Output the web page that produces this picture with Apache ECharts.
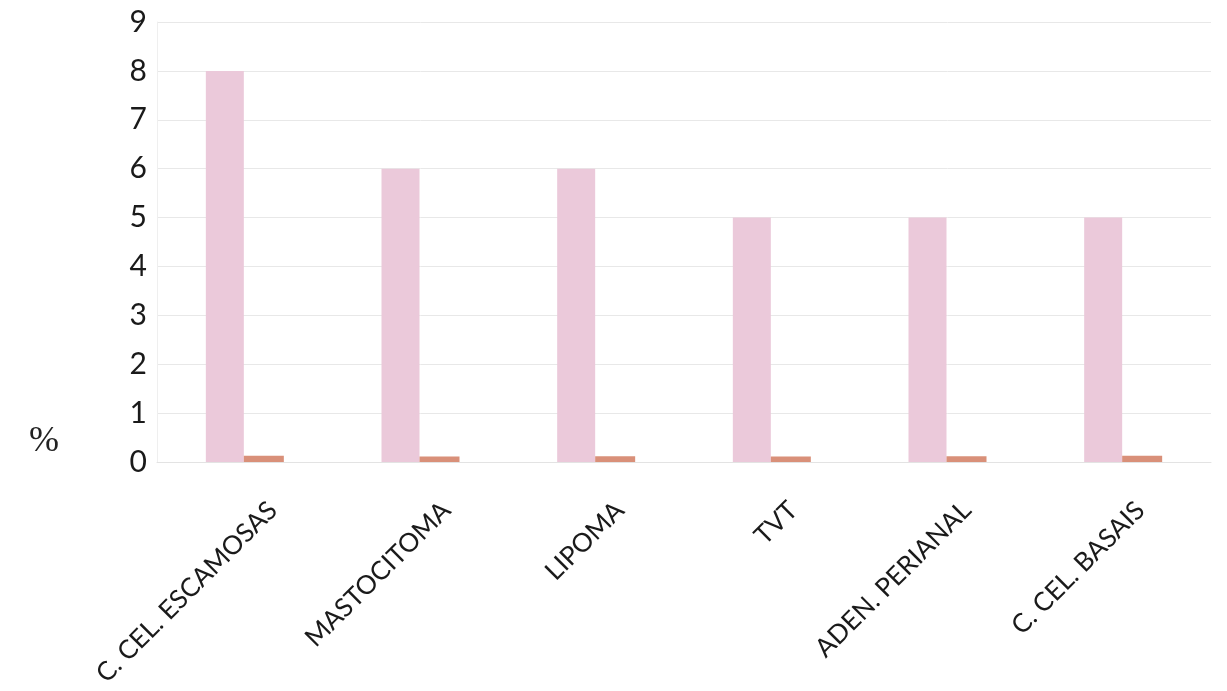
<!DOCTYPE html>
<html>
<head>
<meta charset="utf-8">
<script src="https://cdn.jsdelivr.net/npm/echarts@6/dist/echarts.min.js"></script>
<style>
  html, body { margin: 0; padding: 0; background: #ffffff; }
  #chart { width: 1227px; height: 691px; }
</style>
</head>
<body>
<div id="chart"></div>
<script>
// Tumour types and their share (%)
const categories = ['C. CEL. ESCAMOSAS', 'MASTOCITOMA', 'LIPOMA', 'TVT', 'ADEN. PERIANAL', 'C. CEL. BASAIS'];
const seriesMain = [8, 6, 6, 5, 5, 5];
const seriesSecond = [0.13, 0.11, 0.12, 0.11, 0.12, 0.13];
const yTicks = [0, 1, 2, 3, 4, 5, 6, 7, 8, 9];

const labelFont = 'Lato, "Open Sans", sans-serif';
const gridLeft = 157, gridRight = 16, gridTop = 22, gridBottom = 229;
const labelShift = 29;

const chart = echarts.init(document.getElementById('chart'), null, { renderer: 'canvas' });

chart.setOption({
  animation: false,
  backgroundColor: '#ffffff',
  title: {
    text: '%',
    left: 24,
    top: 419,
    textStyle: { fontFamily: '"Liberation Serif", "DejaVu Serif", serif', fontSize: 36, fontWeight: 'normal', color: '#222' }
  },
  grid: [
    { left: gridLeft, right: gridRight, top: gridTop, bottom: gridBottom },
    // label-only grid, nudged right so the slanted names end beside the bars
    { left: gridLeft + labelShift, right: gridRight - labelShift, top: gridTop, bottom: gridBottom }
  ],
  xAxis: [
    {
      type: 'category',
      gridIndex: 0,
      data: categories,
      axisLine: { show: true, lineStyle: { color: '#e3e3e3', width: 1 } },
      axisTick: { show: false },
      axisLabel: { show: false },
      splitLine: { show: false }
    },
    {
      type: 'category',
      gridIndex: 1,
      data: categories,
      axisLine: { show: false },
      axisTick: { show: false },
      axisLabel: {
        show: true,
        interval: 0,
        rotate: 45,
        margin: 44,
        fontFamily: labelFont,
        fontSize: 26,
        color: '#1a1a1a'
      }
    }
  ],
  yAxis: [
    {
      type: 'value',
      gridIndex: 0,
      min: yTicks[0],
      max: yTicks[yTicks.length - 1],
      interval: 1,
      axisLine: { show: true, lineStyle: { color: '#efefef', width: 1 } },
      axisTick: { show: false },
      axisLabel: {
        margin: 10,
        fontFamily: labelFont,
        fontSize: 30,
        color: '#1a1a1a'
      },
      splitLine: { show: true, lineStyle: { color: '#e8e8e8', width: 1 } }
    },
    {
      type: 'value',
      gridIndex: 1,
      min: 0,
      max: 9,
      show: false
    }
  ],
  series: [
    {
      name: 'main',
      type: 'bar',
      xAxisIndex: 0,
      yAxisIndex: 0,
      data: seriesMain,
      barWidth: 38,
      barGap: '0%',
      itemStyle: { color: '#ebc9da' }
    },
    {
      name: 'second',
      type: 'bar',
      xAxisIndex: 0,
      yAxisIndex: 0,
      data: seriesSecond,
      barWidth: 40,
      barGap: '0%',
      itemStyle: { color: '#d99079' }
    }
  ]
});
</script>
</body>
</html>
